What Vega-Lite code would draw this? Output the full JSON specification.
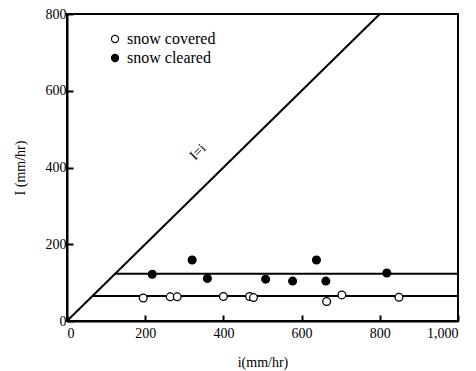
{
  "$schema": "https://vega.github.io/schema/vega-lite/v6.json",
  "width": 391,
  "height": 307,
  "autosize": {"type": "none"},
  "padding": {"left": 67, "top": 14, "right": 18, "bottom": 50},
  "background": "white",
  "config": {
    "view": {"stroke": "black", "strokeWidth": 2},
    "font": "Liberation Serif",
    "axis": {"grid": false, "domainColor": "black", "domainWidth": 2, "ticks": true, "tickColor": "#000000", "tickOpacity": 1, "tickWidth": 2, "titleFontWeight": "normal", "titleColor": "black"}
  },
  "datasets": {
    "pts": [
      {"i": 218, "I": 122, "condition": "snow cleared"},
      {"i": 320, "I": 159, "condition": "snow cleared"},
      {"i": 359, "I": 111, "condition": "snow cleared"},
      {"i": 508, "I": 109, "condition": "snow cleared"},
      {"i": 577, "I": 104, "condition": "snow cleared"},
      {"i": 638, "I": 159, "condition": "snow cleared"},
      {"i": 662, "I": 104, "condition": "snow cleared"},
      {"i": 818, "I": 125, "condition": "snow cleared"},
      {"i": 195, "I": 60, "condition": "snow covered"},
      {"i": 264, "I": 63, "condition": "snow covered"},
      {"i": 282, "I": 63, "condition": "snow covered"},
      {"i": 400, "I": 64, "condition": "snow covered"},
      {"i": 467, "I": 64, "condition": "snow covered"},
      {"i": 477, "I": 61, "condition": "snow covered"},
      {"i": 664, "I": 51, "condition": "snow covered"},
      {"i": 703, "I": 68, "condition": "snow covered"},
      {"i": 849, "I": 62, "condition": "snow covered"}
    ],
    "lines": [
      {"x": 0, "y": 0, "x2": 800, "y2": 800},
      {"x": 122, "y": 123, "x2": 1000, "y2": 123},
      {"x": 64, "y": 65, "x2": 1000, "y2": 65}
    ],
    "labels": [
      {"x": 335, "y": 440, "text": "I=i"}
    ]
  },
  "layer": [
    {
      "data": {"name": "lines"},
      "mark": {"type": "rule", "color": "black", "strokeWidth": 2},
      "encoding": {
        "x": {"field": "x", "type": "quantitative", "scale": {"domain": [0, 1000], "nice": false}, "axis": {"orient": "bottom", "values": [0, 200, 400, 600, 800, 1000], "format": ",d", "ticks": true, "tickSize": -6, "tickColor": "#000000", "tickOpacity": 1, "tickWidth": 2, "labelPadding": 11, "labelFont": "Liberation Serif", "labelFontSize": 14, "labelColor": "black", "title": "i(mm/hr)", "titleFont": "Liberation Serif", "titleFontSize": 14, "titlePadding": 15}},
        "y": {"field": "y", "type": "quantitative", "scale": {"domain": [0, 800], "nice": false}, "axis": {"orient": "left", "values": [0, 200, 400, 600, 800], "format": "d", "ticks": true, "tickSize": -6, "tickColor": "#000000", "tickOpacity": 1, "tickWidth": 2, "labelPadding": 7, "labelFont": "Liberation Serif", "labelFontSize": 14, "labelColor": "black", "title": "I (mm/hr)", "titleFont": "Liberation Serif", "titleFontSize": 14, "titlePadding": 18}},
        "x2": {"field": "x2"},
        "y2": {"field": "y2"}
      }
    },
    {
      "data": {"name": "pts"},
      "mark": {"type": "point", "shape": "circle", "filled": true, "stroke": "black", "strokeWidth": 1.3, "size": 60, "strokeOpacity": 1, "opacity": 1},
      "encoding": {
        "x": {"field": "i", "type": "quantitative"},
        "y": {"field": "I", "type": "quantitative"},
        "fill": {"field": "condition", "type": "nominal", "scale": {"domain": ["snow covered", "snow cleared"], "range": ["white", "black"]}, "legend": {"orient": "none", "legendX": 40, "legendY": 17, "title": null, "labelFont": "Liberation Serif", "labelFontSize": 16, "labelColor": "black", "symbolStrokeColor": "black", "symbolStrokeWidth": 1.2, "symbolSize": 50, "rowPadding": 3, "labelOffset": 4}}
      }
    },
    {
      "data": {"name": "labels"},
      "mark": {"type": "text", "angle": -45, "fontSize": 14, "font": "Liberation Serif", "color": "black"},
      "encoding": {
        "x": {"field": "x", "type": "quantitative"},
        "y": {"field": "y", "type": "quantitative"},
        "text": {"field": "text"}
      }
    }
  ]
}
